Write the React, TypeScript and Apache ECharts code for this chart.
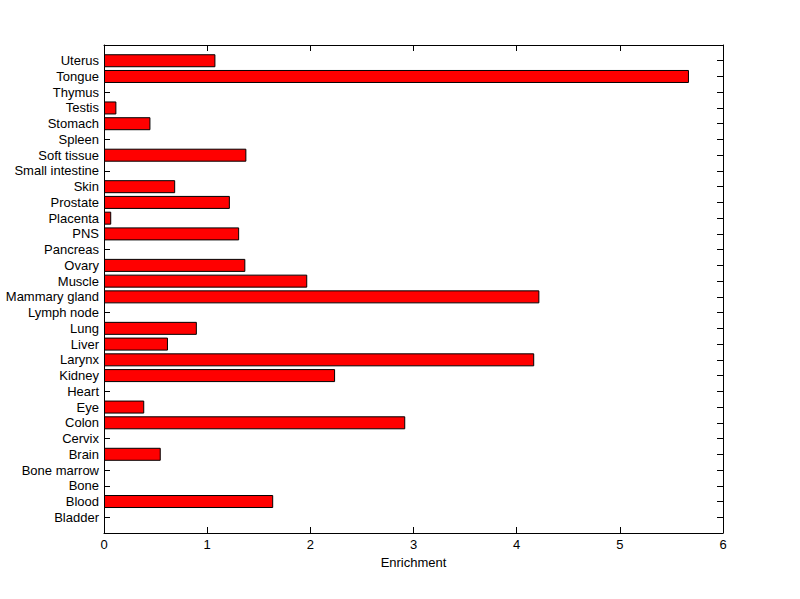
import React, { useEffect, useRef } from "react";
import * as echarts from "echarts";

const categories = [
  "Bladder", "Blood", "Bone", "Bone marrow", "Brain", "Cervix", "Colon", "Eye", "Heart", "Kidney",
  "Larynx", "Liver", "Lung", "Lymph node", "Mammary gland", "Muscle", "Ovary", "Pancreas", "PNS", "Placenta",
  "Prostate", "Skin", "Small intestine", "Soft tissue", "Spleen", "Stomach", "Testis", "Thymus", "Tongue", "Uterus",
];
const enrichment = [
  0, 1.64, 0, 0, 0.55, 0, 2.92, 0.39, 0, 2.24,
  4.17, 0.62, 0.90, 0, 4.22, 1.97, 1.37, 0, 1.31, 0.07,
  1.22, 0.69, 0, 1.38, 0, 0.45, 0.12, 0, 5.67, 1.08,
];
const xTicks = [0, 1, 2, 3, 4, 5, 6];

export default function App() {
  const ref = useRef<HTMLDivElement>(null);
  useEffect(() => {
    if (!ref.current) return;
    const chart = echarts.init(ref.current, null, { renderer: "svg" });
    const padded = ["", ...categories, ""];
    const data = ["-", ...enrichment.map((v) => (v === 0 ? "-" : v)), "-"];
    const font = "Liberation Sans, Arial, sans-serif";
    const L = 6;
    const line = { show: true, onZero: false, lineStyle: { color: "#000", width: 1 } };
    const tick = { show: true, inside: true, length: L, interval: 0, lineStyle: { color: "#000", width: 1 } };
    chart.setOption({
      animation: false,
      backgroundColor: "#fff",
      grid: { left: 104, right: 77, top: 45, bottom: 66, containLabel: false },
      xAxis: [
        {
          type: "value",
          min: 0,
          max: 6,
          interval: 1,
          position: "bottom",
          name: "Enrichment",
          nameLocation: "middle",
          nameGap: 22,
          nameTextStyle: { color: "#000", fontSize: 13, fontFamily: font },
          axisLine: line,
          axisTick: tick,
          axisLabel: {
            color: "#000", fontSize: 13, fontFamily: font, margin: 5,
            formatter: (v: number) => (xTicks.includes(v) ? String(v) : ""),
          },
          splitLine: { show: false },
        },
        {
          type: "value",
          min: 0,
          max: 6,
          interval: 1,
          position: "top",
          axisLine: line,
          axisTick: tick,
          axisLabel: { show: false },
          splitLine: { show: false },
        },
      ],
      yAxis: [
        {
          type: "category",
          data: padded,
          boundaryGap: false,
          position: "left",
          axisLine: line,
          axisTick: tick,
          axisLabel: {
            color: "#000", fontSize: 13, fontFamily: font, margin: 5,
            interval: 0,
          },
          splitLine: { show: false },
        },
        {
          type: "category",
          data: padded,
          boundaryGap: false,
          position: "right",
          axisLine: line,
          axisTick: tick,
          axisLabel: { show: false },
          splitLine: { show: false },
        },
      ],
      series: [
        {
          type: "bar",
          xAxisIndex: 0,
          yAxisIndex: 0,
          data,
          barWidth: 13,
          itemStyle: { color: "#ff0000", borderColor: "#000", borderWidth: 1 },
        },
      ],
    });
    return () => chart.dispose();
  }, []);
  return <div ref={ref} style={{ width: 800, height: 599, position: "absolute", left: 0, top: 0 }} />;
}
